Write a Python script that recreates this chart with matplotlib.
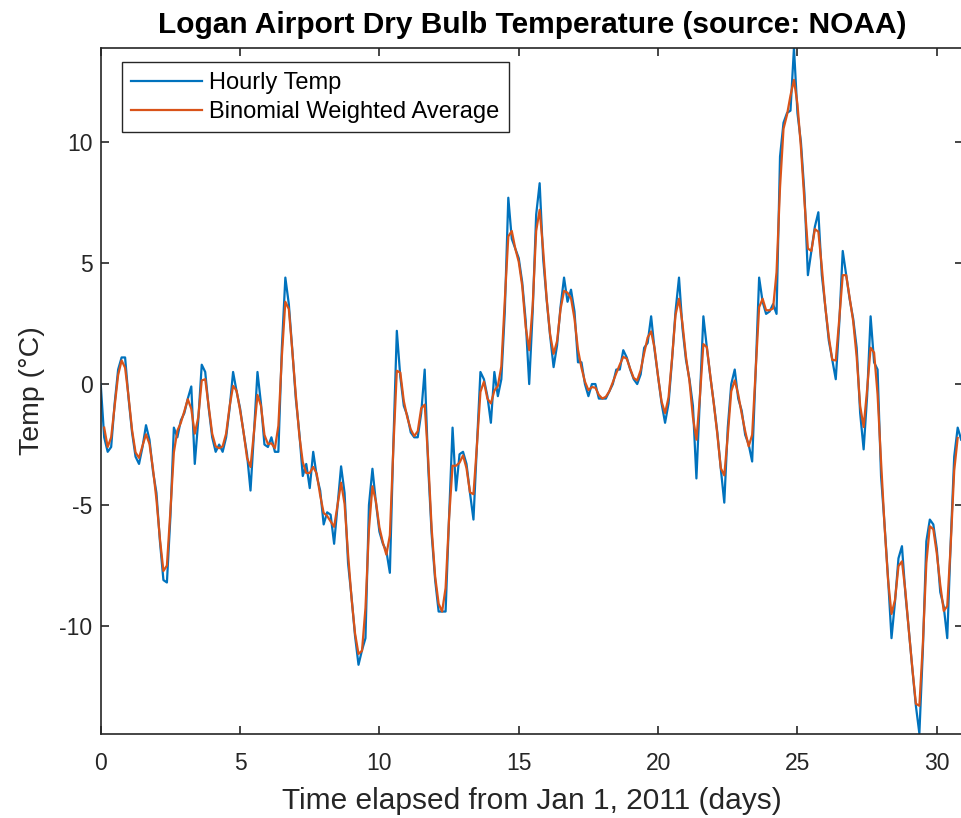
import numpy as np
import matplotlib
matplotlib.use('Agg')
import matplotlib.pyplot as plt

plt.rcParams['font.family'] = ['Liberation Sans', 'DejaVu Sans']
plt.rcParams['axes.unicode_minus'] = False

# temperature read every 3 hours (8 per day), deg C
hours_step = 3
temp_c = [
    0.0, -2.2, -2.8, -2.6, -0.8, 0.6, 1.1, 1.1,          # day 0
    -0.6, -2.0, -3.0, -3.3, -2.6, -1.7, -2.3, -3.6,      # day 1
    -4.5, -6.5, -8.1, -8.2, -5.5, -1.8, -2.2, -1.5,      # day 2
    -1.2, -0.6, -0.1, -3.3, -1.5, 0.8, 0.5, -1.0,        # day 3
    -2.2, -2.8, -2.5, -2.8, -2.2, -1.0, 0.5, -0.3,       # day 4
    -1.0, -2.0, -2.9, -4.4, -2.0, 0.5, -0.8, -2.5,       # day 5
    -2.6, -2.2, -2.8, -2.8, 1.5, 4.4, 3.3, 1.4,          # day 6
    -0.6, -2.0, -3.8, -3.3, -4.3, -2.8, -3.8, -4.4,      # day 7
    -5.8, -5.3, -5.4, -6.6, -5.0, -3.4, -4.5, -7.4,      # day 8
    -8.8, -10.4, -11.6, -11.0, -10.5, -5.0, -3.5, -4.9,  # day 9
    -6.1, -6.6, -6.9, -7.8, -2.5, 2.2, 0.3, -0.9,        # day 10
    -1.3, -2.0, -2.2, -2.2, -1.2, 0.6, -3.4, -6.2,       # day 11
    -8.1, -9.4, -9.4, -9.4, -5.5, -1.8, -4.4, -2.9,      # day 12
    -2.8, -3.3, -4.5, -5.6, -2.5, 0.5, 0.2, -0.5,        # day 13
    -1.6, 0.5, -0.5, 0.2, 3.0, 7.7, 6.0, 5.6,            # day 14
    5.2, 4.2, 2.6, 0.0, 3.0, 7.0, 8.3, 5.2,              # day 15
    3.5, 2.0, 0.7, 1.6, 3.2, 4.4, 3.4, 3.9,              # day 16
    3.0, 0.9, 0.9, 0.0, -0.5, 0.0, 0.0, -0.6,            # day 17
    -0.6, -0.6, -0.3, 0.0, 0.6, 0.6, 1.4, 1.1,           # day 18
    0.6, 0.2, 0.0, 0.4, 1.5, 1.7, 2.8, 1.4,              # day 19
    0.3, -0.8, -1.6, -0.8, 1.0, 3.0, 4.4, 2.3,           # day 20
    1.0, 0.2, -0.9, -3.9, -0.5, 2.8, 1.5, 0.3,           # day 21
    -0.8, -2.0, -3.5, -4.9, -1.8, 0.0, 0.6, -0.6,        # day 22
    -1.1, -2.1, -2.5, -3.2, 0.5, 4.4, 3.4, 2.9,          # day 23
    3.0, 3.3, 2.9, 9.4, 10.8, 11.2, 11.3, 13.89,         # day 24
    11.2, 10.0, 7.9, 4.5, 5.5, 6.5, 7.1, 4.5,            # day 25
    3.2, 1.8, 1.0, 0.2, 2.5, 5.5, 4.5, 3.5,              # day 26
    2.7, 1.5, -1.2, -2.7, -0.5, 2.8, 0.9, 0.6,           # day 27
    -3.8, -5.8, -8.0, -10.5, -9.0, -7.2, -6.7, -8.7,     # day 28
    -10.2, -11.8, -13.3, -14.44, -11.0, -6.5, -5.6, -5.8,  # day 29
    -6.8, -8.6, -9.2, -10.5, -6.5, -3.0, -1.8, -2.3,     # day 30
]

temp_c = np.array(temp_c)
days = np.arange(len(temp_c)) * hours_step / 24.0

# binomial weights (1/2 + 1/2 z^-1)^2, centred to remove the filter delay
h = [0.5, 0.5]
binomial_coeff = np.convolve(h, h)
binomial_ma = np.convolve(temp_c, binomial_coeff, mode='valid')
f_delay = (len(binomial_coeff) - 1) // 2
ma_days = days[f_delay:f_delay + len(binomial_ma)]

fig = plt.figure(figsize=(9.61, 8.18), dpi=100)
ax = fig.add_axes([0.1048, 0.1033, 0.8978, 0.8381])

ax.plot(days, temp_c, color='#0072BD', lw=1.6, label='Hourly Temp')
ax.plot(ma_days, binomial_ma, color='#D95319', lw=1.6, label='Binomial Weighted Average')

ax.set_xlim(0, 743 / 24.0)
ax.set_ylim(-14.44, 13.89)
ax.set_xticks([0, 5, 10, 15, 20, 25, 30])
ax.set_yticks([-10, -5, 0, 5, 10])

for s in ax.spines.values():
    s.set_color('#262626')
    s.set_linewidth(1.2)
ax.tick_params(direction='in', top=True, right=True, length=6, width=1.2,
               colors='#262626', labelsize=16.5, labelcolor='#262626')
ax.tick_params(axis='x', pad=13)
ax.tick_params(axis='y', pad=6)

ax.set_title('Logan Airport Dry Bulb Temperature (source: NOAA)',
             fontsize=21.5, fontweight='bold', pad=11)
ax.set_xlabel('Time elapsed from Jan 1, 2011 (days)', fontsize=21.5,
              color='#262626', labelpad=9)
ax.set_ylabel('Temp (°C)', fontsize=20.5, color='#262626', labelpad=10)

leg = ax.legend(loc='upper left', bbox_to_anchor=(0.0247, 0.979), fontsize=17,
                fancybox=False, framealpha=1, edgecolor='#262626',
                borderaxespad=0, handlelength=3.0, handletextpad=0.3,
                borderpad=0.4, labelspacing=0.3)
leg.get_frame().set_linewidth(1.0)

fig.savefig('out.png', dpi=100)
